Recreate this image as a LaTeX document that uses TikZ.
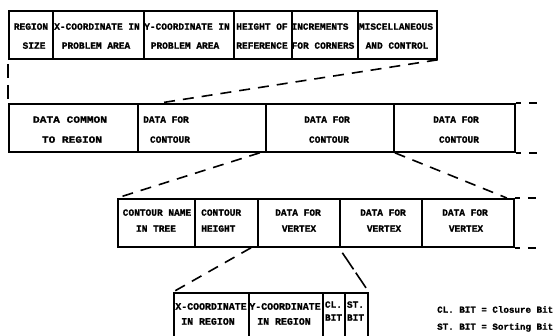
\documentclass[tikz,border=0pt]{standalone}
\usepackage{fontspec}
\newfontfamily\tyf[FakeBold=1.2]{Liberation Mono Bold}
\usetikzlibrary{calc}
\begin{document}
\begin{tikzpicture}[x=1pt,y=-1pt,
  cell/.style={draw, line width=1.8pt, inner sep=0pt, anchor=north west},
  txt/.style={font=\tyf\fontsize{9.5}{10}\selectfont, inner sep=0pt, text height=5.5pt, text depth=0pt},
  big/.style={font=\tyf\fontsize{9.9}{10}\selectfont},
  lgd/.style={font=\tyf\fontsize{9.2}{10}\selectfont, inner sep=0pt, anchor=west, text height=5.5pt, text depth=0pt},
  dsh/.style={line width=1.6pt, dash pattern=on 11pt off 8pt},
  link/.style={line width=1.6pt},
]
\useasboundingbox (0,0) rectangle (554,336);
\clip (0,0) rectangle (554,336);

% ---------- row 1 ----------
\node[cell,minimum width=44pt,minimum height=48pt] (r1a) at (8,10) {};
\node[cell,minimum width=91pt,minimum height=48pt] (r1b) at (52,10) {};
\node[cell,minimum width=90pt,minimum height=48pt] (r1c) at (143,10) {};
\node[cell,minimum width=58pt,minimum height=48pt] (r1d) at (233,10) {};
\node[cell,minimum width=66pt,minimum height=48pt] (r1e) at (291,10) {};
\node[cell,minimum width=79pt,minimum height=48pt] (r1f) at (357,10) {};

\node[txt] (t1a1) at (31,27) {REGION};
\node[txt] (t1a2) at (34,46) {SIZE};
\node[txt] (t1b1) at (97,27) {X-COORDINATE IN};
\node[txt] (t1b2) at (96,46) {PROBLEM AREA};
\node[txt] (t1c1) at (187,27) {Y-COORDINATE IN};
\node[txt] (t1c2) at (185,46) {PROBLEM AREA};
\node[txt] (t1d1) at (262,27) {HEIGHT OF};
\node[txt] (t1d2) at (262,46) {REFERENCE};
\node[txt] (t1e1) at (320,27) {INCREMENTS};
\node[txt] (t1e2) at (323,46) {FOR CORNERS};
\node[txt] (t1f1) at (396,27) {MISCELLANEOUS};
\node[txt] (t1f2) at (397,46) {AND CONTROL};

% ---------- row 2 ----------
\node[cell,minimum width=129pt,minimum height=48pt] (r2a) at (8,103) {};
\node[cell,minimum width=128pt,minimum height=48pt] (r2b) at (137,103) {};
\node[cell,minimum width=128pt,minimum height=48pt] (r2c) at (265,103) {};
\node[cell,minimum width=121pt,minimum height=48pt] (r2d) at (393,103) {};

\node[txt] (t2a1) at (70,120) {\resizebox{74pt}{\height}{DATA COMMON}};
\node[txt] (t2a2) at (72,140) {\resizebox{60pt}{\height}{TO REGION}};
\node[txt] (t2b1) at (166,120) {DATA FOR};
\node[txt] (t2b2) at (170,140) {CONTOUR};
\node[txt] (t2c1) at (327,120) {DATA FOR};
\node[txt] (t2c2) at (329,140) {CONTOUR};
\node[txt] (t2d1) at (456,120) {DATA FOR};
\node[txt] (t2d2) at (459,140) {CONTOUR};

% ---------- row 3 ----------
\node[cell,minimum width=77pt,minimum height=48pt] (r3a) at (117,198) {};
\node[cell,minimum width=63pt,minimum height=48pt] (r3b) at (194,198) {};
\node[cell,minimum width=82pt,minimum height=48pt] (r3c) at (257,198) {};
\node[cell,minimum width=82pt,minimum height=48pt] (r3d) at (339,198) {};
\node[cell,minimum width=92pt,minimum height=48pt] (r3e) at (421,198) {};

\node[txt] (t3a1) at (157,213) {CONTOUR NAME};
\node[txt] (t3a2) at (156,229) {IN TREE};
\node[txt,anchor=west] (t3b1) at (201,213) {CONTOUR};
\node[txt,anchor=west] (t3b2) at (201,229) {HEIGHT};
\node[txt] (t3c1) at (298,213) {DATA FOR};
\node[txt] (t3c2) at (299,229) {VERTEX};
\node[txt] (t3d1) at (383,213) {DATA FOR};
\node[txt] (t3d2) at (384,229) {VERTEX};
\node[txt] (t3e1) at (465,213) {DATA FOR};
\node[txt] (t3e2) at (466,229) {VERTEX};

% ---------- row 4 (open at the bottom) ----------
\node[cell,minimum width=75pt,minimum height=60pt] (r4a) at (173,292) {};
\node[cell,minimum width=74pt,minimum height=60pt] (r4b) at (248,292) {};
\node[cell,minimum width=22pt,minimum height=60pt] (r4c) at (322,292) {};
\node[cell,minimum width=23pt,minimum height=60pt] (r4d) at (344,292) {};

\node[txt,big] (t4a1) at (211,307) {X-COORDINATE};
\node[txt,big] (t4a2) at (208,322) {IN REGION};
\node[txt,big] (t4b1) at (285,307) {Y-COORDINATE};
\node[txt,big] (t4b2) at (284,322) {IN REGION};
\node[txt] (t4c1) at (333.5,305) {CL.};
\node[txt] (t4c2) at (333.5,318) {BIT};
\node[txt] (t4d1) at (355.5,305) {ST.};
\node[txt] (t4d2) at (355.5,318) {BIT};

% ---------- legend ----------
\node[lgd] (l1) at (437,310) {CL. BIT = Closure Bit};
\node[lgd] (l2) at (437,327) {ST. BIT = Sorting Bit};

% ---------- connectors ----------
\coordinate (c12) at ($(r2b.north west)+(23,0)$);
\draw[link, dash pattern=on 14pt off 7pt, dash phase=17pt] (r1a.south west) -- (r2a.north west);
\draw[dsh] (r1f.south east) -- (c12);

\coordinate (c23a) at ($(r2b.south east)+(-7,0)$);
\coordinate (c23b) at ($(r3e.north east)+(-8,0)$);
\draw[dsh] (c23a) -- (r3a.north west);
\draw[dsh] (r2c.south east) -- (c23b);

\coordinate (c34a) at ($(r3c.south west)+(-6,0)$);
\draw[dsh] (c34a) -- (r4a.north west);
\draw[link, shorten <=6pt, shorten >=5pt, dash pattern=on 20pt off 4pt on 40pt] (r3d.south west) -- (r4d.north east);

% continuation marks to the right
\coordinate (e2t) at ($(r2d.north east)+(21,0)$);
\coordinate (e2b) at ($(r2d.south east)+(21,0)$);
\coordinate (e3t) at ($(r3e.north east)+(21,0)$);
\coordinate (e3b) at ($(r3e.south east)+(21,0)$);
\draw[link, dash pattern=on 5pt off 8pt on 8pt off 50pt] (r2d.north east) -- (e2t);
\draw[link, dash pattern=on 5pt off 8pt on 8pt off 50pt] (r2d.south east) -- (e2b);
\draw[link, dash pattern=on 5pt off 8pt on 8pt off 50pt] (r3e.north east) -- (e3t);
\draw[link, dash pattern=on 5pt off 8pt on 8pt off 50pt] (r3e.south east) -- (e3b);
\end{tikzpicture}
\end{document}
